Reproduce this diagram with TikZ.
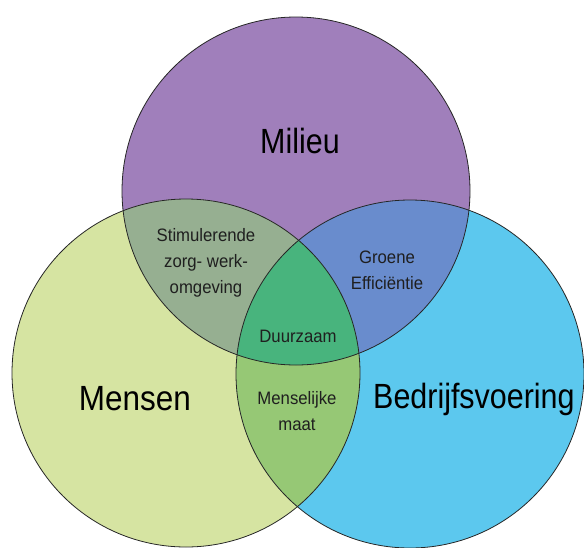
\documentclass[tikz,border=0pt]{standalone}
\usepackage{fontspec}
\setmainfont{Liberation Sans}
\definecolor{milieu}{RGB}{160,127,187}
\definecolor{mensen}{RGB}{214,228,162}
\definecolor{bedrijf}{RGB}{92,200,238}
\definecolor{milmen}{RGB}{150,175,145}
\definecolor{milbed}{RGB}{105,140,205}
\definecolor{menbed}{RGB}{150,200,117}
\definecolor{alle}{RGB}{72,180,125}
\newcommand{\nar}[1]{\scalebox{0.93}[1]{#1}}
\tikzset{
  outline/.style={draw=black!85, line width=0.8pt},
  biglabel/.style={font=\fontsize{35}{40}\selectfont, inner sep=0pt, text=black},
  smalllabel/.style={font=\fontsize{18}{26}\selectfont, align=center, inner sep=0pt, text=black!88}
}
\begin{document}
\begin{tikzpicture}[x=1pt,y=-1pt]
\useasboundingbox (0,0) rectangle (584,547);
\coordinate (M) at (296,191);
\coordinate (L) at (186,373);
\coordinate (B) at (410,374);
\def\rr{174pt}
% base fills
\fill[milieu] (M) circle (\rr);
\fill[mensen] (L) circle (\rr);
\fill[bedrijf] (B) circle (\rr);
% pairwise overlaps
\begin{scope}
  \clip (M) circle (\rr);
  \fill[milmen] (L) circle (\rr);
  \fill[milbed] (B) circle (\rr);
\end{scope}
\begin{scope}
  \clip (L) circle (\rr);
  \fill[menbed] (B) circle (\rr);
\end{scope}
% triple overlap
\begin{scope}
  \clip (M) circle (\rr);
  \clip (L) circle (\rr);
  \fill[alle] (B) circle (\rr);
\end{scope}
% outlines
\draw[outline] (M) circle (\rr);
\draw[outline] (L) circle (\rr);
\draw[outline] (B) circle (\rr);
% labels
\node[biglabel] (milieuT) at (300,141) {\scalebox{0.87}[1]{Milieu}};
\node[biglabel] (mensenT) at (135,399) {\scalebox{0.9}[1]{Mensen}};
\node[biglabel, anchor=west] (bedrijfT) at (373,399) {\scalebox{0.87}[1]{Bedrijfsvoering}};
\node[smalllabel] (stim) at (206,263) {\nar{Stimulerende}\\\nar{zorg- werk-}\\\nar{omgeving}};
\node[smalllabel] (groen) at (387,270) {\nar{Groene}\\\nar{Efficiëntie}};
\node[smalllabel] (duur) at (298,336) {\nar{Duurzaam}};
\node[smalllabel] (mens) at (297,411) {\nar{Menselijke}\\\nar{maat}};
\end{tikzpicture}
\end{document}
